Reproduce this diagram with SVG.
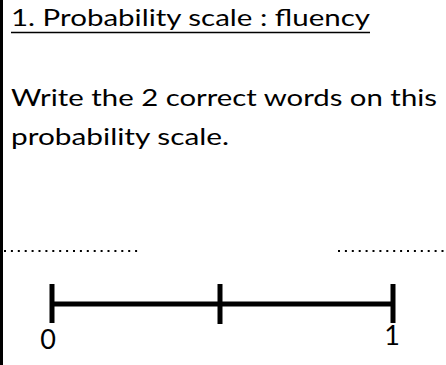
<svg xmlns="http://www.w3.org/2000/svg" width="446" height="365" viewBox="0 0 446 365">
<style>
.t{font-family:Lato,"Open Sans","Liberation Sans",sans-serif;fill:#000}
.dots{stroke:#000;stroke-width:2;stroke-dasharray:2 4.9;fill:none}
.bar{stroke:#000;stroke-width:5;fill:none}
</style>
<rect x="0" y="0" width="446" height="365" fill="#fff"/>
<line x1="1.5" y1="0" x2="1.5" y2="365" stroke="#000" stroke-width="3"/>
<g id="title">
<text class="t" x="11" y="26" font-size="22.5" textLength="359" lengthAdjust="spacingAndGlyphs">1. Probability scale : fluency</text>
<line x1="11" y1="32.5" x2="370" y2="32.5" stroke="#000" stroke-width="1.6"/>
</g>
<g id="instruction">
<text class="t" x="11" y="106" font-size="24" textLength="426" lengthAdjust="spacingAndGlyphs">Write the 2 correct words on this</text>
<text class="t" x="11" y="145" font-size="24" textLength="218" lengthAdjust="spacingAndGlyphs">probability scale.</text>
</g>
<g id="answer-lines">
<line class="dots" x1="4" y1="251" x2="138" y2="251"/>
<line class="dots" x1="338" y1="251" x2="446" y2="251"/>
</g>
<g id="scale">
<line class="bar" x1="52" y1="304" x2="393" y2="304"/>
<line class="bar" x1="52" y1="284" x2="52" y2="323"/>
<line class="bar" x1="220" y1="284" x2="220" y2="324"/>
<line class="bar" x1="393" y1="284" x2="393" y2="323"/>
</g>
<g id="labels">
<text class="t" x="48" y="349" font-size="27" text-anchor="middle">0</text>
<text class="t" x="392" y="345" font-size="27" text-anchor="middle">1</text>
</g>
</svg>
